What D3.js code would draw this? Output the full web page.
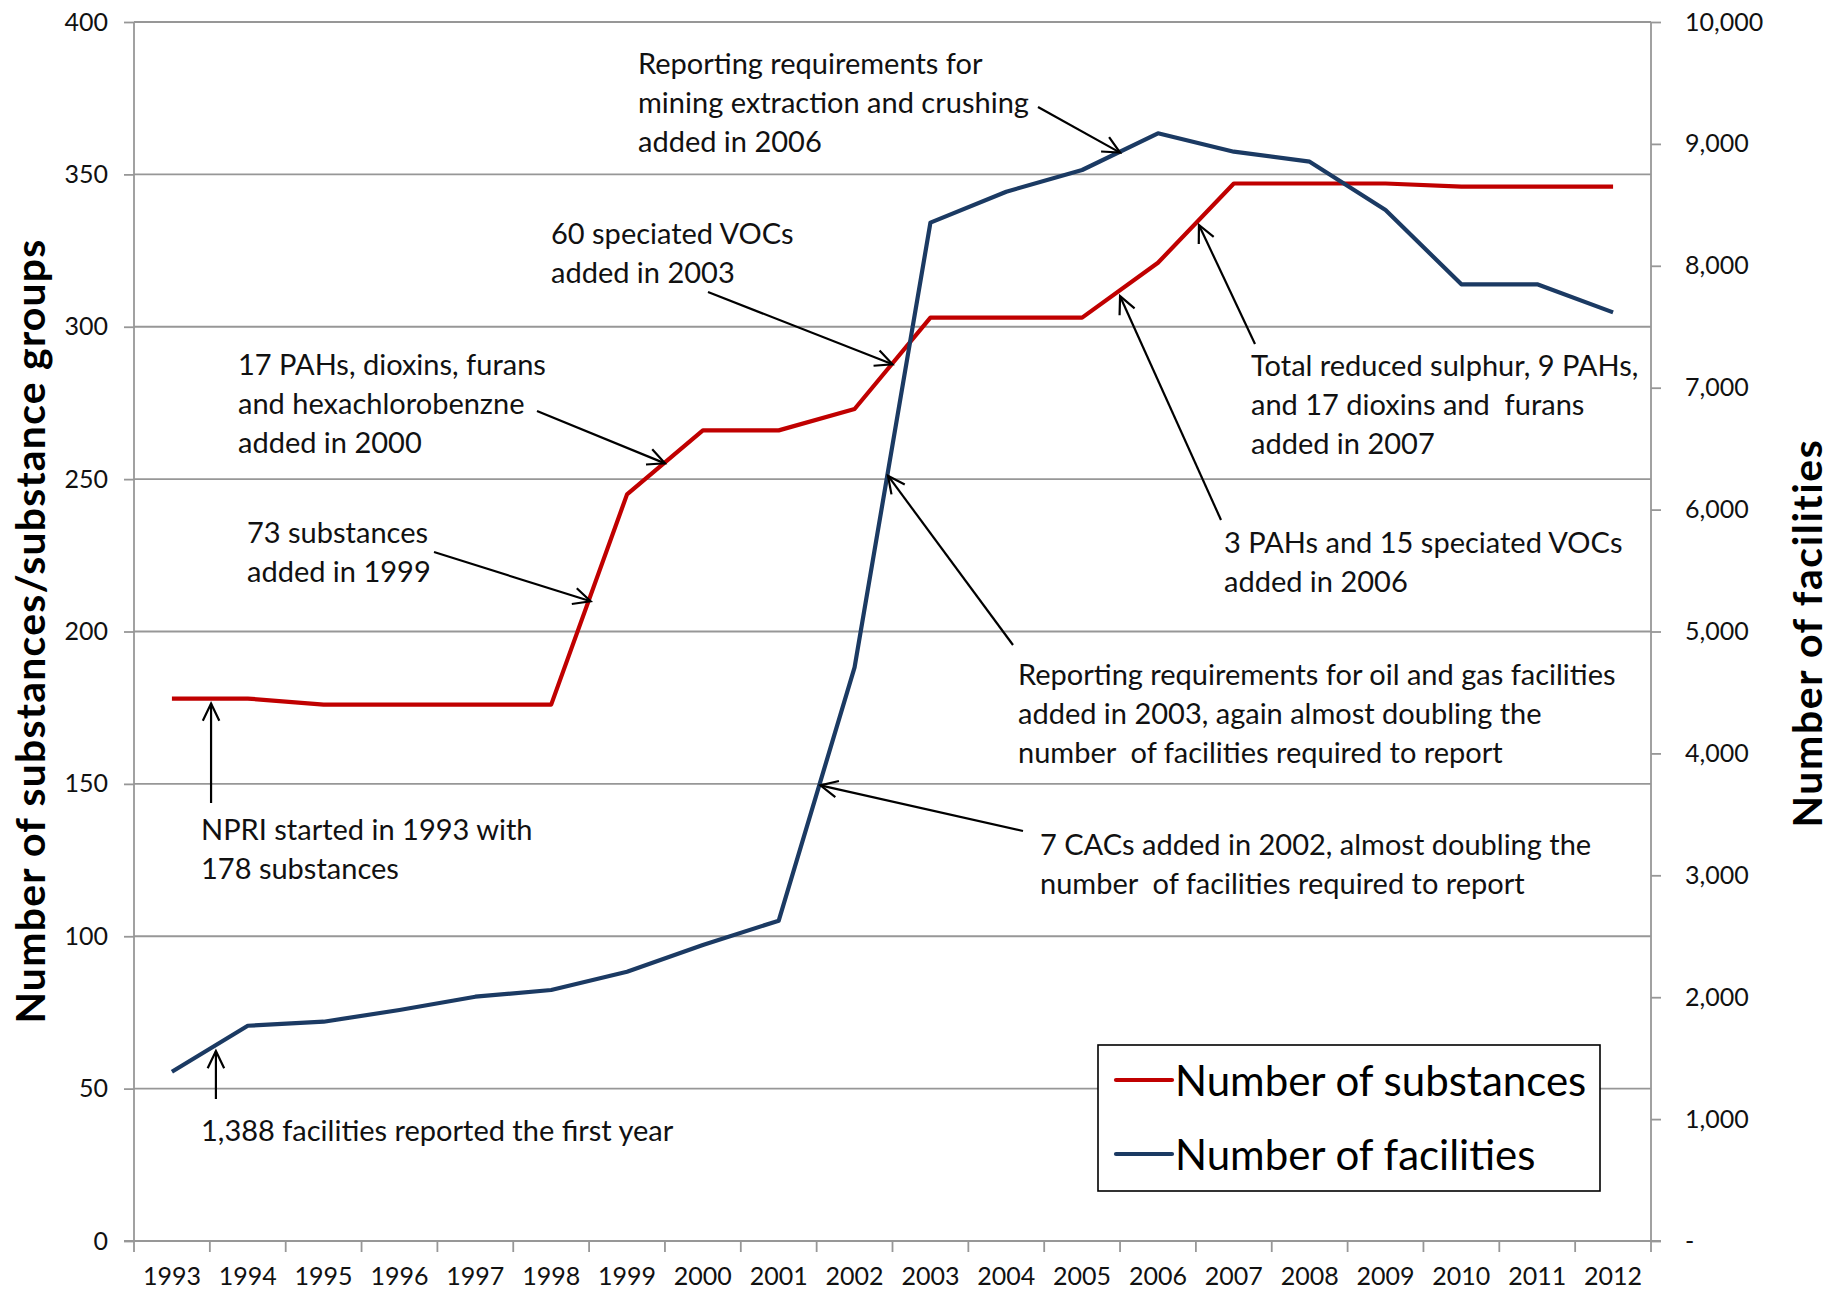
<!DOCTYPE html>
<html>
<head>
<meta charset="utf-8">
<script src="https://cdn.jsdelivr.net/npm/d3@7"></script>
<style>
  html, body { margin: 0; padding: 0; background: #ffffff; }
  svg { display: block; font-family: Lato, "Open Sans", sans-serif; }
</style>
</head>
<body>
<svg id="chart" width="1829" height="1290"></svg>
<script>
// ---------------- DATA ----------------
const years = ["1993","1994","1995","1996","1997","1998","1999","2000","2001","2002",
               "2003","2004","2005","2006","2007","2008","2009","2010","2011","2012"];
const substances = [178, 178, 176, 176, 176, 176, 245, 266, 266, 273,
                    303, 303, 303, 321, 347, 347, 347, 346, 346, 346];
const facilities = [1388, 1766, 1799, 1895, 2004, 2059, 2209, 2428, 2628, 4706,
                    8354, 8608, 8786, 9087, 8936, 8854, 8458, 7848, 7848, 7618];
const leftTicks = [0, 50, 100, 150, 200, 250, 300, 350, 400];
const rightTicks = [0, 1000, 2000, 3000, 4000, 5000, 6000, 7000, 8000, 9000, 10000];
const seriesNames = ["Number of substances", "Number of facilities"];
const leftTitle = "Number of substances/substance groups";
const rightTitle = "Number of facilities";

// annotation texts and the point on a series their arrow targets (index along years)
const noteTexts = [
  ["Reporting requirements for", "mining extraction and crushing", "added in 2006"],
  ["60 speciated VOCs", "added in 2003"],
  ["17 PAHs, dioxins, furans", "and hexachlorobenzne", "added in 2000"],
  ["73 substances", "added in 1999"],
  ["NPRI started in 1993 with", "178 substances"],
  ["1,388 facilities reported the first year"],
  ["7 CACs added in 2002, almost doubling the", "number  of facilities required to report"],
  ["Reporting requirements for oil and gas facilities", "added in 2003, again almost doubling the", "number  of facilities required to report"],
  ["3 PAHs and 15 speciated VOCs", "added in 2006"],
  ["Total reduced sulphur, 9 PAHs,", "and 17 dioxins and  furans", "added in 2007"]
];
const noteTargetSeries = ["facilities","substances","substances","substances","substances",
                          "facilities","facilities","facilities","substances","substances"];
const noteTargetIndex = [12.5, 9.5, 6.5, 5.52, 0.516, 0.58, 8.55, 9.44, 12.5, 13.54];

// ---------------- LAYOUT ----------------
const W = 1829, H = 1290;
const plot = { left: 134, right: 1651, top: 22, bottom: 1241 };
const C = {
  red: "#C00000", blue: "#1B3A63", grid: "#979797", text: "#111111"
};
// annotation layout: text left x, first line centre y, arrow tail, extra tip offset
const noteLayout = [
  { x: 638,  y: 62,   tail: [1038, 107], dy: 1 },
  { x: 551,  y: 232,  tail: [708, 292],  dy: 1 },
  { x: 238,  y: 363,  tail: [537, 411],  dy: 1 },
  { x: 247,  y: 531,  tail: [434, 552],  dy: 6 },
  { x: 201,  y: 828,  tail: [null, 803], dy: 5 },
  { x: 201,  y: 1129, tail: [null, 1099], dy: 6 },
  { x: 1040, y: 843,  tail: [1023, 831], dy: 4 },
  { x: 1018, y: 673,  tail: [1013, 645], dy: 4 },
  { x: 1224, y: 541,  tail: [1221, 520], dy: 6 },
  { x: 1251, y: 364,  tail: [1255, 344], dy: 5 }
];
const lineGap = 39;

const svg = d3.select("#chart");
svg.append("rect").attr("width", W).attr("height", H).attr("fill", "#fff");

const x = d3.scalePoint().domain(years).range([plot.left, plot.right]).padding(0.5);
const step = x.step();
const xi = i => x(years[0]) + i * step;
const yL = d3.scaleLinear().domain([0, 400]).range([plot.bottom, plot.top]);
const yR = d3.scaleLinear().domain([0, 10000]).range([plot.bottom, plot.top]);

// gridlines
svg.append("g").selectAll("line").data(leftTicks.filter(d => d > 0)).join("line")
  .attr("x1", plot.left).attr("x2", plot.right)
  .attr("y1", d => yL(d)).attr("y2", d => yL(d))
  .attr("stroke", C.grid).attr("stroke-width", 1.8);

// left axis
const gL = svg.append("g").attr("transform", `translate(${plot.left},0)`)
  .call(d3.axisLeft(yL).tickValues(leftTicks).tickSize(10).tickPadding(16).tickFormat(d3.format("d")));
// right axis
const gR = svg.append("g").attr("transform", `translate(${plot.right},0)`)
  .call(d3.axisRight(yR).tickValues(rightTicks).tickSize(10).tickPadding(24)
    .tickFormat(d => d === 0 ? "-" : d3.format(",")(d)));
// bottom axis: ticks at category boundaries
const boundaries = d3.range(years.length + 1).map(i => plot.left + i * step);
const gB = svg.append("g").attr("transform", `translate(0,${plot.bottom})`);
gB.append("line").attr("x1", plot.left - 10).attr("x2", plot.right + 10)
  .attr("stroke", C.grid).attr("stroke-width", 1.8);
gB.selectAll("line.tk").data(boundaries).join("line").attr("class", "tk")
  .attr("x1", d => d).attr("x2", d => d).attr("y1", 0).attr("y2", 11)
  .attr("stroke", C.grid).attr("stroke-width", 1.8);
gB.selectAll("text").data(years).join("text")
  .attr("x", d => x(d)).attr("y", 34).attr("text-anchor", "middle")
  .attr("dominant-baseline", "central")
  .attr("font-size", 25).attr("fill", C.text).text(d => d);

[gL, gR].forEach(g => {
  g.select(".domain").attr("stroke", C.grid).attr("stroke-width", 1.8);
  g.selectAll(".tick line").attr("stroke", C.grid).attr("stroke-width", 1.8);
  g.selectAll(".tick text").attr("font-size", 25).attr("fill", C.text)
    .attr("font-family", "Lato, sans-serif");
});
gL.select(".domain").attr("d", `M0,${plot.top}V${plot.bottom}`);
gR.select(".domain").attr("d", `M0,${plot.top}V${plot.bottom}`);

// axis titles
svg.append("text").attr("transform", `translate(29,631) rotate(-90)`)
  .attr("text-anchor", "middle").attr("dominant-baseline", "central")
  .attr("font-size", 41).attr("letter-spacing", 1.2)
  .attr("font-weight", "bold").attr("fill", "#000").text(leftTitle);
svg.append("text").attr("transform", `translate(1806,633) rotate(-90)`)
  .attr("text-anchor", "middle").attr("dominant-baseline", "central")
  .attr("font-size", 41).attr("letter-spacing", 1.6)
  .attr("font-weight", "bold").attr("fill", "#000").text(rightTitle);

// lines
const lineL = d3.line().x((d, i) => x(years[i])).y(d => yL(d));
const lineR = d3.line().x((d, i) => x(years[i])).y(d => yR(d));
svg.append("path").datum(substances).attr("d", lineL).attr("fill", "none")
  .attr("stroke", C.red).attr("stroke-width", 4.2).attr("stroke-linejoin", "round");
svg.append("path").datum(facilities).attr("d", lineR).attr("fill", "none")
  .attr("stroke", C.blue).attr("stroke-width", 4.2).attr("stroke-linejoin", "round");

// annotations
function valueAt(arr, i) {
  const i0 = Math.floor(i), f = i - i0;
  const a = arr[i0], b = arr[Math.min(i0 + 1, arr.length - 1)];
  return a + (b - a) * f;
}
const gN = svg.append("g");
noteTexts.forEach((lines, k) => {
  const L = noteLayout[k];
  const t = gN.append("text").attr("font-size", 29).attr("fill", C.text);
  lines.forEach((ln, j) => {
    t.append("tspan").attr("x", L.x).attr("y", L.y + j * lineGap)
      .attr("dominant-baseline", "central").attr("xml:space", "preserve").text(ln);
  });
  const idx = noteTargetIndex[k];
  const isSub = noteTargetSeries[k] === "substances";
  const tx = xi(idx);
  const ty = (isSub ? yL(valueAt(substances, idx)) : yR(valueAt(facilities, idx))) + L.dy;
  const sx = L.tail[0] === null ? tx : L.tail[0];
  const sy = L.tail[1];
  gN.append("line").attr("x1", sx).attr("y1", sy).attr("x2", tx).attr("y2", ty)
    .attr("stroke", "#000").attr("stroke-width", 2.2);
  const ang = Math.atan2(ty - sy, tx - sx);
  const hl = 19, ha = Math.PI / 7;
  const p1 = [tx - hl * Math.cos(ang - ha), ty - hl * Math.sin(ang - ha)];
  const p2 = [tx - hl * Math.cos(ang + ha), ty - hl * Math.sin(ang + ha)];
  gN.append("path").attr("d", `M${p1}L${tx},${ty}L${p2}`).attr("fill", "none")
    .attr("stroke", "#000").attr("stroke-width", 2.2).attr("stroke-linejoin", "miter");
});

// legend
const lg = svg.append("g");
lg.append("rect").attr("x", 1098).attr("y", 1045).attr("width", 502).attr("height", 146)
  .attr("fill", "#fff").attr("stroke", "#000").attr("stroke-width", 1.6);
[C.red, C.blue].forEach((c, i) => {
  const yy = 1080 + i * 74;
  lg.append("line").attr("x1", 1116).attr("x2", 1172).attr("y1", yy).attr("y2", yy)
    .attr("stroke", c).attr("stroke-width", 4.2).attr("stroke-linecap", "round");
  lg.append("text").attr("x", 1175).attr("y", yy).attr("dominant-baseline", "central")
    .attr("font-size", 42).attr("fill", "#000").text(seriesNames[i]);
});
</script>
</body>
</html>
